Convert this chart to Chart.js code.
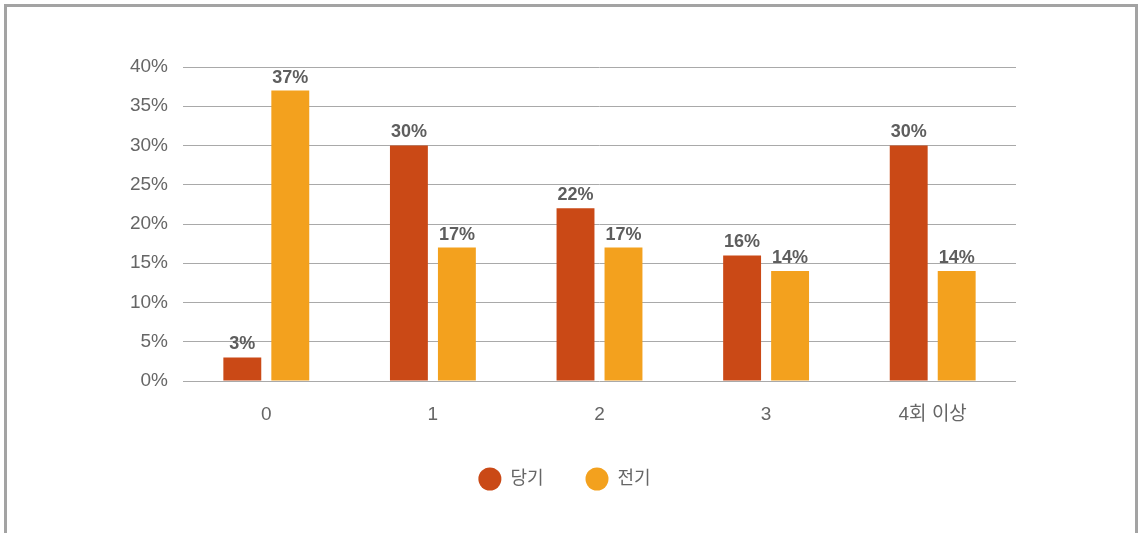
<!DOCTYPE html>
<html>
<head>
<meta charset="utf-8">
<script src="https://cdn.jsdelivr.net/npm/chart.js@4"></script>
<style>
  html, body { margin: 0; padding: 0; background: #fff; overflow: hidden; }
  #frame {
    position: absolute; left: 4px; top: 4px; width: 1128px; height: 600px;
    border: 3px solid #a3a3a3; box-sizing: content-box;
  }
  #myChart { position: absolute; left: 0; top: 0; }
</style>
</head>
<body>
<div id="frame"></div>
<canvas id="myChart" width="1139" height="533"></canvas>
<script>
(function () {
  "use strict";

  const categories = ["0", "1", "2", "3", "4회 이상"];
  const seriesNames = ["당기", "전기"];
  const current = [3, 30, 22, 16, 30];   // 당기
  const previous = [37, 17, 17, 14, 14]; // 전기
  const yTicks = [0, 5, 10, 15, 20, 25, 30, 35, 40];

  const FONT = "'Liberation Sans', 'Noto Sans CJK KR', sans-serif";

  // value labels above each bar
  const barLabels = {
    id: "barLabels",
    afterDatasetsDraw(chart) {
      const ctx = chart.ctx;
      ctx.save();
      ctx.font = "bold 18px " + FONT;
      ctx.fillStyle = "#5e5e5e";
      ctx.textAlign = "center";
      ctx.textBaseline = "bottom";
      chart.data.datasets.forEach(function (ds, i) {
        chart.getDatasetMeta(i).data.forEach(function (bar, j) {
          ctx.fillText(Math.round(ds.data[j]) + "%", bar.x, bar.y - 4);
        });
      });
      ctx.restore();
    },
  };

  const ctx = document.getElementById("myChart").getContext("2d");
  const myChart = new Chart(ctx, {
    type: "bar",
    data: {
      labels: categories,
      datasets: [
        {
          label: seriesNames[0],
          data: current,
          backgroundColor: "#ca4916",
          barPercentage: 0.79,
          categoryPercentage: 0.576,
        },
        {
          label: seriesNames[1],
          data: previous,
          backgroundColor: "#f3a11e",
          barPercentage: 0.79,
          categoryPercentage: 0.576,
        },
      ],
    },
    options: {
      responsive: false,
      animation: false,
      layout: { padding: { top: 67, left: 0, right: 10, bottom: 35 } },
      scales: {
        y: {
          min: 0,
          max: 40,
          afterBuildTicks: function (s) {
            s.ticks = yTicks.map(function (v) { return { value: v }; });
          },
          afterFit: function (s) { s.width = 183; },
          ticks: {
            callback: function (v) { return v + "%"; },
            font: { family: FONT, size: 19 },
            color: "#666",
            padding: 15,
          },
          grid: { color: "#a9a9a9", drawTicks: false },
          border: { display: false },
        },
        right: {
          position: "right",
          afterFit: function (s) { s.width = 113; },
          ticks: { display: false },
          grid: { display: false, drawTicks: false },
          border: { display: false },
        },
        x: {
          afterFit: function (s) { s.height = 47; },
          ticks: {
            font: { family: FONT, size: 19 },
            color: "#666",
            padding: 14,
          },
          grid: { display: false },
          border: { display: false },
        },
      },
      plugins: {
        tooltip: { enabled: false },
        legend: {
          position: "bottom",
          labels: {
            usePointStyle: true,
            pointStyle: "circle",
            pointStyleWidth: 23,
            boxHeight: 16.3,
            font: { family: FONT, size: 18 },
            color: "#666",
            padding: 42,
          },
        },
      },
    },
    plugins: [barLabels],
  });
})();
</script>
</body>
</html>
